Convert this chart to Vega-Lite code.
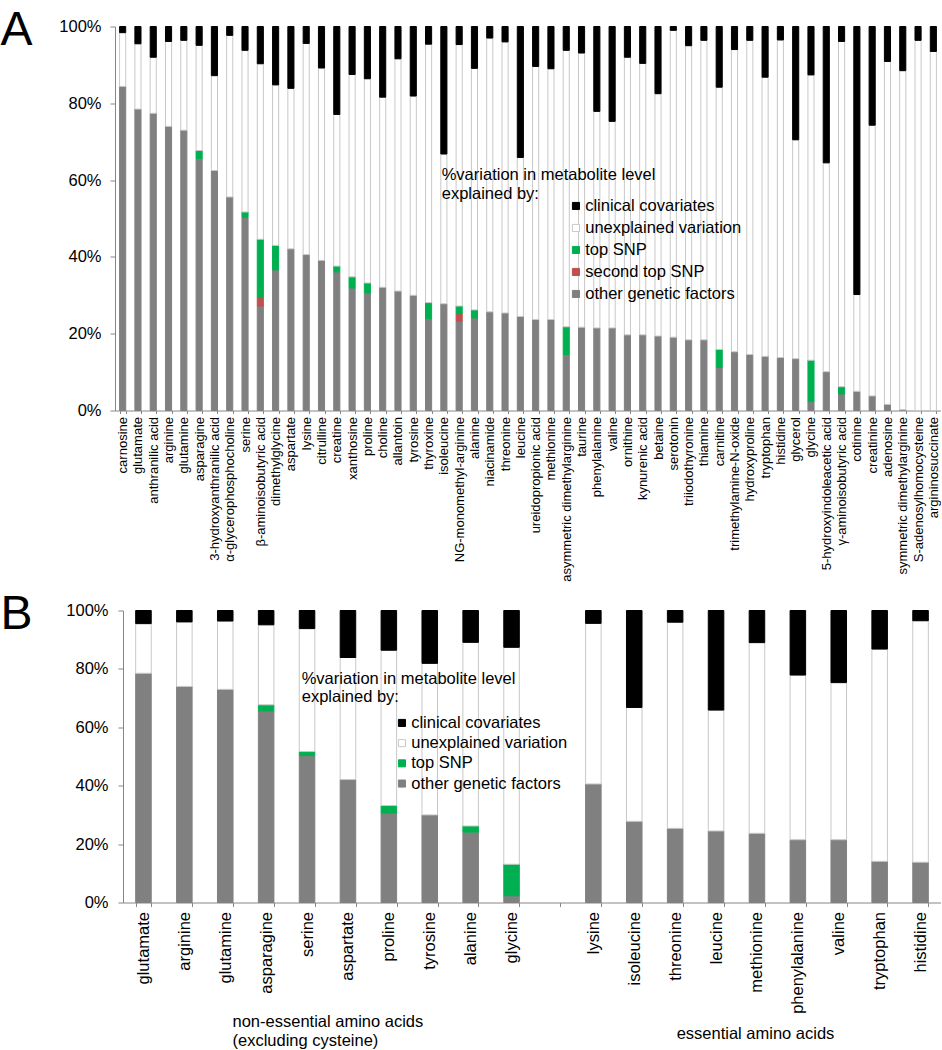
{
  "$schema": "https://vega.github.io/schema/vega-lite/v6.json",
  "padding": {"left": 0, "top": 6.5, "right": 0, "bottom": 0},
  "background": "white",
  "spacing": 200,
  "bounds": "flush",
  "config": {
    "font": "Liberation Sans",
    "view": {"stroke": null},
    "axis": {"domainColor": "#868686", "tickColor": "#868686", "labelColor": "#000000", "titleColor": "#000000", "titleFontWeight": "normal", "grid": false},
    "legend": {"titleFontWeight": "normal", "titleColor": "#000000", "labelColor": "#000000", "symbolType": "square", "symbolSize": 50, "symbolStrokeWidth": 1, "labelFontSize": 16.5, "titleFontSize": 16.5, "labelLimit": 400, "titleLimit": 400}
  },
  "datasets": {
    "parts": [
      {"key": "o", "name": "other genetic factors", "rank": 1},
      {"key": "s", "name": "second top SNP", "rank": 2},
      {"key": "t", "name": "top SNP", "rank": 3},
      {"key": "u", "name": "unexplained variation", "rank": 4},
      {"key": "c", "name": "clinical covariates", "rank": 5}
    ],
    "metab": [
      {"m": "carnosine", "o": 84.4, "s": 0, "t": 0, "u": 14.0, "c": 1.6},
      {"m": "glutamate", "o": 78.5, "s": 0, "t": 0, "u": 17.0, "c": 4.5},
      {"m": "anthranilic acid", "o": 77.4, "s": 0, "t": 0, "u": 14.6, "c": 8.0},
      {"m": "arginine", "o": 74.0, "s": 0, "t": 0, "u": 22.1, "c": 3.9},
      {"m": "glutamine", "o": 73.0, "s": 0, "t": 0, "u": 23.4, "c": 3.6},
      {"m": "asparagine", "o": 65.6, "s": 0, "t": 2.1, "u": 27.4, "c": 4.9},
      {"m": "3-hydroxyanthranilic acid", "o": 62.5, "s": 0, "t": 0, "u": 24.7, "c": 12.8},
      {"m": "α-glycerophosphocholine", "o": 55.6, "s": 0, "t": 0, "u": 42.1, "c": 2.3},
      {"m": "serine", "o": 50.3, "s": 0, "t": 1.4, "u": 42.1, "c": 6.2},
      {"m": "β-aminoisobutyric acid", "o": 27.2, "s": 2.2, "t": 15.2, "u": 45.7, "c": 9.7},
      {"m": "dimethylglycine", "o": 36.6, "s": 0, "t": 6.4, "u": 41.8, "c": 15.2},
      {"m": "aspartate", "o": 42.1, "s": 0, "t": 0, "u": 41.8, "c": 16.1},
      {"m": "lysine", "o": 40.6, "s": 0, "t": 0, "u": 55.0, "c": 4.4},
      {"m": "citrulline", "o": 39.1, "s": 0, "t": 0, "u": 50.1, "c": 10.8},
      {"m": "creatine", "o": 36.1, "s": 0, "t": 1.5, "u": 39.5, "c": 22.9},
      {"m": "xanthosine", "o": 31.9, "s": 0, "t": 2.9, "u": 52.7, "c": 12.5},
      {"m": "proline", "o": 30.6, "s": 0, "t": 2.6, "u": 53.2, "c": 13.6},
      {"m": "choline", "o": 32.1, "s": 0, "t": 0, "u": 49.5, "c": 18.4},
      {"m": "allantoin", "o": 31.1, "s": 0, "t": 0, "u": 60.5, "c": 8.4},
      {"m": "tyrosine", "o": 30.0, "s": 0, "t": 0, "u": 51.9, "c": 18.1},
      {"m": "thyroxine", "o": 23.9, "s": 0, "t": 4.2, "u": 67.3, "c": 4.6},
      {"m": "isoleucine", "o": 27.8, "s": 0, "t": 0, "u": 39.0, "c": 33.2},
      {"m": "NG-monomethyl-arginine", "o": 23.3, "s": 1.9, "t": 2.0, "u": 68.1, "c": 4.7},
      {"m": "alanine", "o": 24.1, "s": 0, "t": 2.1, "u": 62.9, "c": 10.9},
      {"m": "niacinamide", "o": 25.7, "s": 0, "t": 0, "u": 71.3, "c": 3.0},
      {"m": "threonine", "o": 25.4, "s": 0, "t": 0, "u": 70.6, "c": 4.0},
      {"m": "leucine", "o": 24.5, "s": 0, "t": 0, "u": 41.4, "c": 34.1},
      {"m": "ureidopropionic acid", "o": 23.7, "s": 0, "t": 0, "u": 65.9, "c": 10.4},
      {"m": "methionine", "o": 23.7, "s": 0, "t": 0, "u": 65.3, "c": 11.0},
      {"m": "asymmetric dimethylarginine", "o": 14.6, "s": 0, "t": 7.2, "u": 72.0, "c": 6.2},
      {"m": "taurine", "o": 21.7, "s": 0, "t": 0, "u": 71.4, "c": 6.9},
      {"m": "phenylalanine", "o": 21.5, "s": 0, "t": 0, "u": 56.4, "c": 22.1},
      {"m": "valine", "o": 21.5, "s": 0, "t": 0, "u": 53.8, "c": 24.7},
      {"m": "ornithine", "o": 19.7, "s": 0, "t": 0, "u": 72.3, "c": 8.0},
      {"m": "kynurenic acid", "o": 19.7, "s": 0, "t": 0, "u": 70.7, "c": 9.6},
      {"m": "betaine", "o": 19.4, "s": 0, "t": 0, "u": 63.1, "c": 17.5},
      {"m": "serotonin", "o": 19.1, "s": 0, "t": 0, "u": 79.9, "c": 1.0},
      {"m": "triiodothyronine", "o": 18.4, "s": 0, "t": 0, "u": 76.6, "c": 5.0},
      {"m": "thiamine", "o": 18.4, "s": 0, "t": 0, "u": 78.0, "c": 3.6},
      {"m": "carnitine", "o": 11.2, "s": 0, "t": 4.7, "u": 68.3, "c": 15.8},
      {"m": "trimethylamine-N-oxide", "o": 15.3, "s": 0, "t": 0, "u": 78.7, "c": 6.0},
      {"m": "hydroxyproline", "o": 14.6, "s": 0, "t": 0, "u": 81.8, "c": 3.6},
      {"m": "tryptophan", "o": 14.1, "s": 0, "t": 0, "u": 72.7, "c": 13.2},
      {"m": "histidine", "o": 13.8, "s": 0, "t": 0, "u": 82.7, "c": 3.5},
      {"m": "glycerol", "o": 13.5, "s": 0, "t": 0, "u": 57.0, "c": 29.5},
      {"m": "glycine", "o": 2.3, "s": 0, "t": 10.8, "u": 74.3, "c": 12.6},
      {"m": "5-hydroxyindoleacetic acid", "o": 10.1, "s": 0, "t": 0, "u": 54.4, "c": 35.5},
      {"m": "γ-aminoisobutyric acid", "o": 4.3, "s": 0, "t": 1.9, "u": 89.9, "c": 3.9},
      {"m": "cotinine", "o": 5.0, "s": 0, "t": 0, "u": 25.2, "c": 69.8},
      {"m": "creatinine", "o": 3.8, "s": 0, "t": 0, "u": 70.5, "c": 25.7},
      {"m": "adenosine", "o": 1.6, "s": 0, "t": 0, "u": 89.3, "c": 9.1},
      {"m": "symmetric dimethylarginine", "o": 0.2, "s": 0, "t": 0, "u": 88.3, "c": 11.5},
      {"m": "S-adenosylhomocysteine", "o": 0, "s": 0, "t": 0, "u": 96.4, "c": 3.6},
      {"m": "argininosuccinate", "o": 0, "s": 0, "t": 0, "u": 93.5, "c": 6.5}
    ]
  },
  "resolve": {"scale": {"fill": "independent", "stroke": "independent"}, "legend": {"fill": "independent", "stroke": "independent"}},
  "vconcat": [
    {
      "width": 826,
      "height": 384,
      "data": {"name": "metab"},
      "transform": [
        {"fold": ["o", "s", "t", "u", "c"], "as": ["key", "value"]},
        {"filter": "datum.value > 0"},
        {"lookup": "key", "from": {"data": {"name": "parts"}, "key": "key", "fields": ["name", "rank"]}}
      ],
      "mark": {"type": "bar", "strokeWidth": 1},
      "encoding": {
        "x": {
          "field": "m", "type": "nominal", "sort": null,
          "scale": {"paddingInner": 0.6, "paddingOuter": 0.3},
          "axis": {"title": null, "labelAngle": -90, "labelFontSize": 13, "tickBand": "extent", "tickSize": 3, "labelPadding": 3}
        },
        "y": {
          "field": "value", "type": "quantitative", "stack": "zero",
          "scale": {"domain": [0, 100]},
          "axis": {"values": [0, 20, 40, 60, 80, 100], "labelExpr": "datum.value + '%'", "tickSize": 5, "labelPadding": 9, "labelFontSize": 16.5,
            "title": "A", "titleAngle": 0, "titleAlign": "left", "titleBaseline": "alphabetic", "titleX": -115, "titleY": 18, "titleFontSize": 48}
        },
        "fill": {
          "field": "name", "type": "nominal",
          "scale": {"domain": ["clinical covariates", "unexplained variation", "top SNP", "second top SNP", "other genetic factors"], "range": ["#000000", "#ffffff", "#00b050", "#c0504d", "#808080"]},
          "legend": {"orient": "none", "legendX": 326.7, "legendY": 140.7, "title": ["%variation in metabolite level", "explained by:"], "titleLineHeight": 19, "titlePadding": -5, "symbolOffset": 126, "rowPadding": 5, "labelOffset": 1}
        },
        "stroke": {
          "field": "name", "type": "nominal",
          "scale": {"domain": ["clinical covariates", "unexplained variation", "top SNP", "second top SNP", "other genetic factors"], "range": ["#000000", "#c8c8c8", "#00b050", "#c0504d", "#808080"]},
          "legend": {"orient": "none", "legendX": 326.7, "legendY": 140.7, "title": ["%variation in metabolite level", "explained by:"], "titleLineHeight": 19, "titlePadding": -5, "symbolOffset": 126, "rowPadding": 5, "labelOffset": 1}
        },
        "order": {"field": "rank", "type": "quantitative"}
      }
    },
    {
      "width": 826,
      "height": 292,
      "data": {"name": "metab"},
      "transform": [
        {"filter": {"field": "m", "oneOf": ["glutamate", "arginine", "glutamine", "asparagine", "serine", "aspartate", "proline", "tyrosine", "alanine", "glycine", "lysine", "isoleucine", "threonine", "leucine", "methionine", "phenylalanine", "valine", "tryptophan", "histidine"]}},
        {"fold": ["o", "t", "u", "c"], "as": ["key", "value"]},
        {"filter": "datum.value > 0"},
        {"lookup": "key", "from": {"data": {"name": "parts"}, "key": "key", "fields": ["name", "rank"]}}
      ],
      "encoding": {
        "y": {
          "field": "value", "type": "quantitative", "stack": "zero",
          "scale": {"domain": [0, 100]},
          "axis": {"values": [0, 20, 40, 60, 80, 100], "labelExpr": "datum.value + '%'", "tickSize": 5, "labelPadding": 10, "labelFontSize": 16.5, "offset": -8,
            "title": "B", "titleAngle": 0, "titleAlign": "left", "titleBaseline": "alphabetic", "titleX": -123, "titleY": 18, "titleFontSize": 48}
        },
        "fill": {
          "field": "name", "type": "nominal",
          "scale": {"domain": ["clinical covariates", "unexplained variation", "top SNP", "other genetic factors"], "range": ["#000000", "#ffffff", "#00b050", "#808080"]},
          "legend": {"orient": "none", "legendX": 186.7, "legendY": 60.7, "title": ["%variation in metabolite level", "explained by:"], "titleLineHeight": 18, "titlePadding": 9, "symbolOffset": 92, "rowPadding": 3.2, "labelOffset": 1}
        },
        "stroke": {
          "field": "name", "type": "nominal",
          "scale": {"domain": ["clinical covariates", "unexplained variation", "top SNP", "other genetic factors"], "range": ["#000000", "#c8c8c8", "#00b050", "#808080"]},
          "legend": {"orient": "none", "legendX": 186.7, "legendY": 60.7, "title": ["%variation in metabolite level", "explained by:"], "titleLineHeight": 18, "titlePadding": 9, "symbolOffset": 92, "rowPadding": 3.2, "labelOffset": 1}
        },
        "order": {"field": "rank", "type": "quantitative"}
      },
      "layer": [
        {
          "transform": [{"filter": {"field": "m", "oneOf": ["glutamate", "arginine", "glutamine", "asparagine", "serine", "aspartate", "proline", "tyrosine", "alanine", "glycine"]}}],
          "mark": {"type": "bar", "strokeWidth": 1},
          "encoding": {
            "x": {
              "field": "m", "type": "nominal",
              "scale": {"domain": ["glutamate", "arginine", "glutamine", "asparagine", "serine", "aspartate", "proline", "tyrosine", "alanine", "glycine", "gap", "lysine", "isoleucine", "threonine", "leucine", "methionine", "phenylalanine", "valine", "tryptophan", "histidine"], "range": [8, 826], "paddingInner": 0.62, "paddingOuter": 0.31},
              "axis": {"orient": "bottom", "labelAngle": -90, "labelFontSize": 16.5, "labelExpr": "datum.value == 'gap' ? '' : datum.value", "tickBand": "extent", "tickSize": 4, "labelPadding": 5,
                "title": ["non-essential amino acids", "(excluding cysteine)"], "titleX": 117, "titleY": 124, "titleAlign": "left", "titleBaseline": "alphabetic", "titleLineHeight": 19, "titleFontSize": 16.5}
            }
          }
        },
        {
          "transform": [{"filter": {"field": "m", "oneOf": ["lysine", "isoleucine", "threonine", "leucine", "methionine", "phenylalanine", "valine", "tryptophan", "histidine"]}}],
          "mark": {"type": "bar", "strokeWidth": 1},
          "encoding": {
            "x": {
              "field": "m", "type": "nominal",
              "scale": {"domain": ["glutamate", "arginine", "glutamine", "asparagine", "serine", "aspartate", "proline", "tyrosine", "alanine", "glycine", "gap", "lysine", "isoleucine", "threonine", "leucine", "methionine", "phenylalanine", "valine", "tryptophan", "histidine"], "range": [8, 826], "paddingInner": 0.62, "paddingOuter": 0.31},
              "axis": {"orient": "bottom", "domain": false, "ticks": false, "labels": false,
                "title": "essential amino acids", "titleX": 640, "titleY": 136, "titleAlign": "center", "titleBaseline": "alphabetic", "titleFontSize": 16.5}
            }
          }
        }
      ],
      "resolve": {"axis": {"x": "independent"}}
    }
  ]
}
